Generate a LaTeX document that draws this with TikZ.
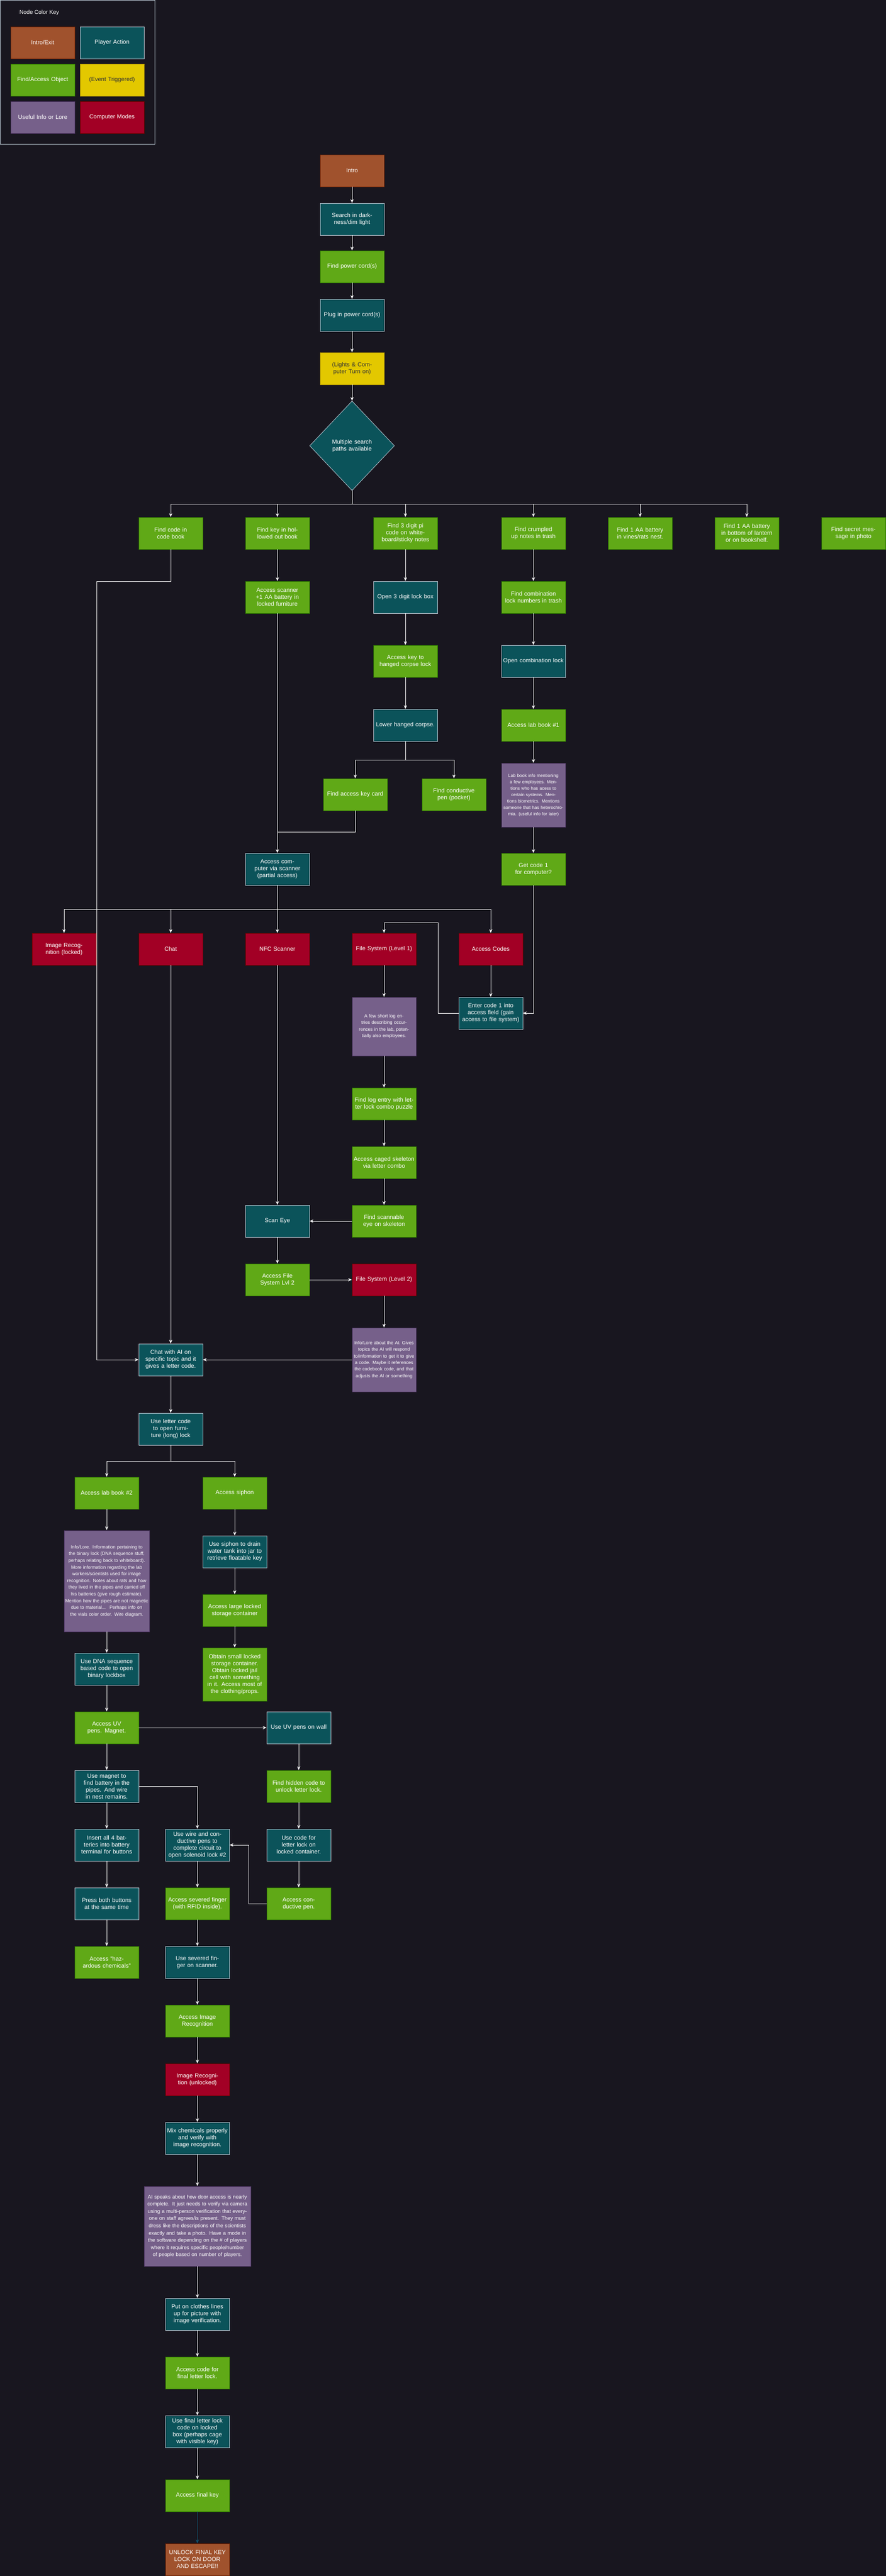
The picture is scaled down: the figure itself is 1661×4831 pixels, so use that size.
\documentclass[tikz,border=0pt]{standalone}
\usepackage{fontspec}
\setmainfont{Liberation Sans}
\usetikzlibrary{arrows.meta,shapes.geometric}
\definecolor{bg}{HTML}{18161F}
\definecolor{cBrown}{HTML}{A0522D}\definecolor{bBrown}{HTML}{6D1F00}
\definecolor{cTeal}{HTML}{0B535A}\definecolor{bTeal}{HTML}{BAC8D3}
\definecolor{cGreen}{HTML}{60A917}\definecolor{bGreen}{HTML}{2D7600}
\definecolor{cYellow}{HTML}{E3C800}\definecolor{bYellow}{HTML}{B09500}
\definecolor{cPurple}{HTML}{76608A}\definecolor{bPurple}{HTML}{432D57}
\definecolor{cRed}{HTML}{A20025}\definecolor{bRed}{HTML}{6F0000}
\definecolor{cArrow}{HTML}{10536E}
\tikzset{
 box/.style={rectangle,minimum width=120pt,minimum height=60pt,text width=114pt,align=center,inner sep=2pt,line width=0.8pt,font=\fontsize{11}{13}\selectfont,text=white},
 brownb/.style={box,fill=cBrown,draw=bBrown},
 tealb/.style={box,fill=cTeal,draw=bTeal},
 greenb/.style={box,fill=cGreen,draw=bGreen},
 yellowb/.style={box,fill=cYellow,draw=bYellow,text=black!80},
 purpleb/.style={box,fill=cPurple,draw=bPurple,font=\fontsize{8.6}{12.5}\selectfont},
 redb/.style={box,fill=cRed,draw=bRed},
 arr/.style={draw=white,line width=0.8pt,-{Stealth[length=7pt,width=6pt]}},
 ln/.style={draw=white,line width=0.8pt},
}
\begin{document}
\begin{tikzpicture}[x=1pt,y=-1pt]
\fill[bg] (0,0) rectangle (1661,4831);
\useasboundingbox (0,0) rectangle (1661,4831);
% legend
\draw[bTeal,line width=0.8pt] (0.5,0.5) rectangle (290.5,270);
\node[anchor=west,text=white,font=\fontsize{10.5}{12}\selectfont] (keyt) at (33,24) {Node Color Key};
\node[brownb] (k1) at (80,80) {Intro/Exit};
\node[tealb] (k2) at (210,80) {Player Action};
\node[greenb] (k3) at (80,150) {Find/Access Object};
\node[yellowb] (k4) at (210,150) {(Event Triggered)};
\node[purpleb,font=\fontsize{11}{13}\selectfont] (k5) at (80,220) {Useful Info or Lore};
\node[redb] (k6) at (210,220) {Computer Modes};
% top chain
\node[brownb] (intro) at (660,320) {Intro};
\node[tealb] (search) at (660,411) {Search in darkness/dim light};
\node[greenb] (power) at (660,500) {Find power cord(s)};
\node[tealb] (plug) at (660,591) {Plug in power cord(s)};
\node[yellowb] (lights) at (660,691) {(Lights \& Computer Turn on)};
\node[diamond,fill=cTeal,draw=bTeal,line width=0.8pt,minimum width=159pt,minimum height=168pt,inner sep=0pt,text width=110pt,align=center,text=white,font=\fontsize{11}{13}\selectfont] (dia) at (660,836) {Multiple search paths available};
\foreach \a/\b in {intro/search,search/power,power/plug,plug/lights,lights/dia} \draw[arr] (\a) -- (\b);
\coordinate (br1) at (660,945);
% row 1
\node[greenb] (codebook) at (320,1000) {Find code in code book};
\node[greenb] (keybook) at (520,1000) {Find key in hollowed out book};
\node[greenb] (pi) at (760,1000) {Find 3 digit pi code on whiteboard/sticky notes};
\node[greenb] (crump) at (1000,1000) {Find crumpled up notes in trash};
\node[greenb] (vines) at (1200,1000) {Find 1 AA battery in vines/rats nest.};
\node[greenb] (lantern) at (1400,1000) {Find 1 AA battery in bottom of lantern or on bookshelf.};
\node[greenb] (secret) at (1600,1000) {Find secret message in photo};
\foreach \t in {codebook,keybook,pi,crump,vines,lantern} \draw[arr] (dia) -- (br1) -| (\t);
% rows
\node[greenb] (scanner) at (520,1120) {Access scanner +1 AA battery in locked furniture};
\node[tealb] (open3) at (760,1120) {Open 3 digit lock box};
\node[greenb] (combnum) at (1000,1120) {Find combination lock numbers in trash};
\node[greenb] (corpsekey) at (760,1240) {Access key to hanged corpse lock};
\node[tealb] (opencomb) at (1000,1240) {Open combination lock};
\node[tealb] (lower) at (760,1360) {Lower hanged corpse.};
\node[greenb] (lab1) at (1000,1360) {Access lab book \#1};
\node[purpleb,minimum height=120pt,font=\fontsize{8.3}{12}\selectfont] (labinfo) at (1000,1491) {Lab book info mentioning a few employees. Mentions who has acess to certain systems. Mentions biometrics. Mentions someone that has heterochromia. (useful info for later)};
\node[greenb] (card) at (666,1490) {Find access key card};
\node[greenb] (cpen) at (851,1490) {Find conductive pen (pocket)};
\node[tealb] (comp) at (520,1630) {Access computer via scanner (partial access)};
\node[greenb] (code1) at (1000,1630) {Get code 1 for computer?};
\draw[arr] (keybook) -- (scanner);
\draw[arr] (pi) -- (open3);
\draw[arr] (open3) -- (corpsekey);
\draw[arr] (corpsekey) -- (lower);
\draw[arr] (crump) -- (combnum);
\draw[arr] (combnum) -- (opencomb);
\draw[arr] (opencomb) -- (lab1);
\draw[arr] (lab1) -- (labinfo);
\draw[arr] (labinfo) -- (code1);
\coordinate (lb) at (760,1425);
\draw[arr] (lower) -- (lb) -| (card);
\draw[arr] (lower) -- (lb) -| (cpen);
\draw[arr] (scanner) -- (comp);
\coordinate (cj) at (520,1560);
\draw[ln] (card) |- (cj);
% modes
\node[redb] (imgrec) at (120,1780) {Image Recognition (locked)};
\node[redb] (chat) at (320,1780) {Chat};
\node[redb] (nfc) at (520,1780) {NFC Scanner};
\node[redb] (fs1) at (720,1780) {File System (Level 1)};
\node[redb] (acodes) at (920,1780) {Access Codes};
\coordinate (mb) at (520,1705);
\foreach \t in {imgrec,chat,acodes} \draw[arr] (comp) -- (mb) -| (\t);
\draw[arr] (comp) -- (nfc);
\node[tealb] (enter) at (920,1900) {Enter code 1 into access field (gain access to file system)};
\draw[arr] (acodes) -- (enter);
\draw[arr] (code1) |- (enter.east);
\coordinate (e2) at (821,1730);
\draw[arr] (enter.west) -| (e2) -| (fs1.north);
\node[purpleb,minimum height=110pt] (log) at (720,1925) {A few short log entries describing occurrences in the lab, potentially also employees.};
\node[greenb] (findlog) at (720,2070) {Find log entry with letter lock combo puzzle};
\node[greenb] (caged) at (720,2180) {Access caged skeleton via letter combo};
\node[greenb] (eye) at (720,2290) {Find scannable eye on skeleton};
\node[tealb] (scaneye) at (520,2290) {Scan Eye};
\node[greenb] (afs2) at (520,2400) {Access File System Lvl 2};
\node[redb] (fs2) at (720,2400) {File System (Level 2)};
\node[purpleb,minimum height=120pt,font=\fontsize{8.6}{12.3}\selectfont] (aiinfo) at (720,2550) {Info/Lore about the AI. Gives topics the AI will respond to/information to get it to give a code. Maybe it references the codebook code, and that adjusts the AI or something};
\node[tealb] (chatai) at (320,2550) {Chat with AI on specific topic and it gives a letter code.};
\draw[arr] (fs1) -- (log);
\draw[arr] (log) -- (findlog);
\draw[arr] (findlog) -- (caged);
\draw[arr] (caged) -- (eye);
\draw[arr] (eye) -- (scaneye);
\draw[arr] (nfc) -- (scaneye);
\draw[arr] (scaneye) -- (afs2);
\draw[arr] (afs2) -- (fs2);
\draw[arr] (fs2) -- (aiinfo);
\draw[arr] (aiinfo) -- (chatai);
\draw[arr] (chat) -- (chatai);
\coordinate (cb1) at (181,1090);
\draw[arr] (codebook) |- (cb1) |- (chatai.west);
% lower section
\node[tealb] (useletter) at (320,2680) {Use letter code to open furniture (long) lock};
\draw[arr] (chatai) -- (useletter);
\node[greenb] (lab2) at (200,2800) {Access lab book \#2};
\node[greenb] (siphon) at (440,2800) {Access siphon};
\coordinate (ub) at (320,2740);
\draw[arr] (useletter) -- (ub) -| (lab2);
\draw[arr] (useletter) -- (ub) -| (siphon);
\node[purpleb,minimum width=160pt,text width=156pt,minimum height=190pt,font=\fontsize{8.6}{12.6}\selectfont] (lore2) at (200,2965) {Info/Lore. Information pertaining to the binary lock (DNA sequence stuff, perhaps relating back to whiteboard). More information regarding the lab workers/scientists used for image recognition. Notes about rats and how they lived in the pipes and carried off his batteries (give rough estimate). Mention how the pipes are not magnetic due to material... ~Perhaps info on the vials color order. Wire diagram.};
\node[tealb] (usesiphon) at (440,2910) {Use siphon to drain water tank into jar to retrieve floatable key};
\node[greenb] (large) at (440,3020) {Access large locked storage container};
\node[greenb,minimum height=100pt] (small) at (440,3140) {Obtain small locked storage container. Obtain locked jail cell with something in it. Access most of the clothing/props.};
\node[tealb] (dna) at (200,3130) {Use DNA sequence based code to open binary lockbox};
\node[greenb] (uvpens) at (200,3240) {Access UV pens. Magnet.};
\node[tealb] (uvwall) at (560,3240) {Use UV pens on wall};
\node[tealb] (magnet) at (200,3350) {Use magnet to find battery in the pipes. And wire in nest remains.};
\node[greenb] (hidden) at (560,3350) {Find hidden code to unlock letter lock.};
\node[tealb] (insert) at (200,3460) {Insert all 4 batteries into battery terminal for buttons};
\node[tealb] (usewire) at (370,3460) {Use wire and conductive pens to complete circuit to open solenoid lock \#2};
\node[tealb] (usecode) at (560,3460) {Use code for letter lock on locked container.};
\node[tealb] (press) at (200,3570) {Press both buttons at the same time};
\node[greenb] (severed) at (370,3570) {Access severed finger (with RFID inside).};
\node[greenb] (condpen) at (560,3570) {Access conductive pen.};
\node[greenb] (hazard) at (200,3680) {Access "hazardous chemicals"};
\node[tealb] (usesev) at (370,3680) {Use severed finger on scanner.};
\node[greenb] (aimg) at (370,3790) {Access Image Recognition};
\node[redb] (imgun) at (370,3900) {Image Recognition (unlocked)};
\node[tealb] (mix) at (370,4010) {Mix chemicals properly and verify with image recognition.};
\node[purpleb,minimum width=200pt,text width=196pt,minimum height=150pt,font=\fontsize{9.6}{13.6}\selectfont] (aispeak) at (370,4175) {AI speaks about how door access is nearly complete. It just needs to verify via camera using a multi-person verification that everyone on staff agrees/is present. They must dress like the descriptions of the scientists exactly and take a photo. Have a mode in the software depending on the \# of players where it requires specific people/number of people based on number of players.};
\node[tealb] (clothes) at (370,4340) {Put on clothes lines up for picture with image verification.};
\node[greenb] (fcode) at (370,4450) {Access code for final letter lock.};
\node[tealb] (ufinal) at (370,4560) {Use final letter lock code on locked box (perhaps cage with visible key)};
\node[greenb] (fkey) at (370,4680) {Access final key};
\node[brownb] (unlock) at (370,4800) {UNLOCK FINAL KEY LOCK ON DOOR AND ESCAPE!!};
\foreach \a/\b in {lab2/lore2,lore2/dna,dna/uvpens,uvpens/magnet,magnet/insert,insert/press,press/hazard,siphon/usesiphon,usesiphon/large,large/small,uvpens/uvwall,uvwall/hidden,hidden/usecode,usecode/condpen,usewire/severed,severed/usesev,usesev/aimg,aimg/imgun,imgun/mix,mix/aispeak,aispeak/clothes,clothes/fcode,fcode/ufinal,ufinal/fkey}
  \draw[arr] (\a) -- (\b);
\draw[arr] (magnet.east) -| (usewire.north);
\coordinate (pj) at (466,3570);
\draw[arr] (condpen.west) -- (pj) |- (usewire.east);
\draw[arr,draw=cArrow] (fkey) -- (unlock);
\end{tikzpicture}
\end{document}
